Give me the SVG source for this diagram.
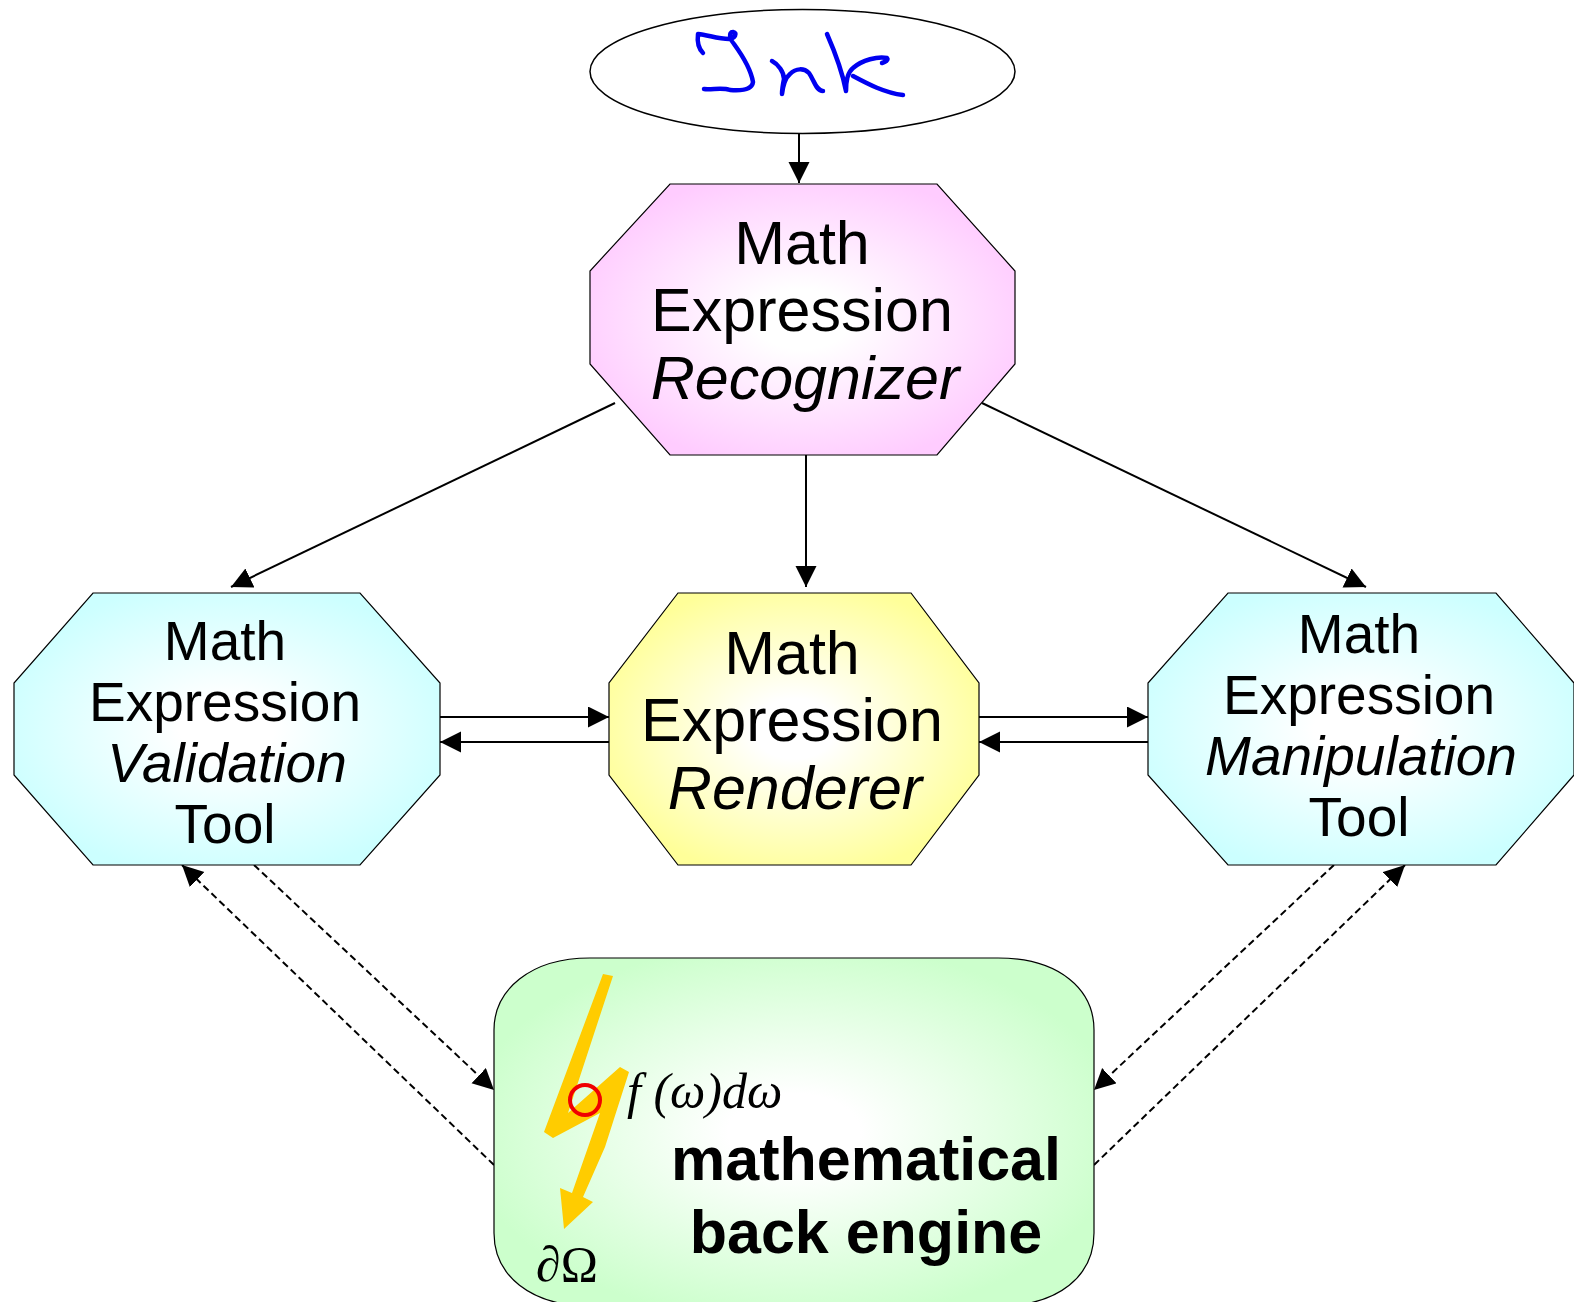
<svg xmlns="http://www.w3.org/2000/svg" width="1574" height="1302" viewBox="0 0 1574 1302">
<style>
.n{stroke:#000;stroke-width:1.2}
.t{font-family:"Liberation Sans",Arial,sans-serif;text-anchor:middle;fill:#000}
.l{font-size:61px}.m{font-size:55px}.i{font-style:italic}
.b{font-family:"Liberation Sans",Arial,sans-serif;text-anchor:middle;font-size:61px;font-weight:bold}
.c{fill:none;stroke:#000;stroke-width:2}
.d{stroke-dasharray:7 4}
.ink{fill:none;stroke:#0000f0;stroke-width:4.5;stroke-linecap:round;stroke-linejoin:round}
.s{font-family:"Liberation Serif","Times New Roman",serif;fill:#000}
</style>
<defs>
<radialGradient id="gp" cx="0.5" cy="0.5" r="0.55"><stop offset="0.2" stop-color="#fff"/><stop offset="1" stop-color="#fcf"/></radialGradient>
<radialGradient id="gc" cx="0.5" cy="0.5" r="0.55"><stop offset="0.2" stop-color="#fff"/><stop offset="1" stop-color="#cff"/></radialGradient>
<radialGradient id="gy" cx="0.5" cy="0.5" r="0.55"><stop offset="0.2" stop-color="#fff"/><stop offset="1" stop-color="#ff9"/></radialGradient>
<radialGradient id="gg" cx="0.5" cy="0.5" r="0.55"><stop offset="0.2" stop-color="#fff"/><stop offset="1" stop-color="#cfc"/></radialGradient>
<marker id="a" markerUnits="userSpaceOnUse" markerWidth="22" markerHeight="22" refX="21" refY="10.5" orient="auto"><path d="M0 0L21 10.500L0 21Z"/></marker>
</defs>
<g id="connectors">
<path class="c" marker-end="url(#a)" d="M799 134V183"/>
<path class="c" marker-end="url(#a)" d="M615 403L231 587"/>
<path class="c" marker-end="url(#a)" d="M806 448V587"/>
<path class="c" marker-end="url(#a)" d="M982 403L1366 587"/>
<path class="c" marker-end="url(#a)" d="M440 717H609"/>
<path class="c" marker-end="url(#a)" d="M609 742H440"/>
<path class="c" marker-end="url(#a)" d="M979 717H1148"/>
<path class="c" marker-end="url(#a)" d="M1148 742H979"/>
<path class="c d" marker-end="url(#a)" d="M254 865L494 1090"/>
<path class="c d" marker-end="url(#a)" d="M494 1165L182 865"/>
<path class="c d" marker-end="url(#a)" d="M1334 865L1094 1090"/>
<path class="c d" marker-end="url(#a)" d="M1094 1165L1405 865"/>
</g>
<g id="ink">
<ellipse class="n" cx="802.500" cy="71.500" rx="212.500" ry="62" fill="#fff" style="stroke-width:1.500"/>
<path class="ink" d="M703 53C698 48 697 42 698 34C708 35 718 39 729 39C735 38 738 33 733 32C728 32 730 40 734 44C742 55 751 70 753 82C752 90 742 91 730 90C722 87 712 90 704 89"/>
<path class="ink" d="M772 61C778 64 784 72 784 79C783 84 782 90 782 94C783 86 785 78 790 74C796 68 804 68 809 73C814 80 816 91 823 91"/>
<path class="ink" d="M827 34C834 50 842 70 846 91C846 80 848 72 853 68C862 60 878 56 887 58C889 60 885 62 882 63"/>
<path class="ink" d="M853 76C868 84 885 93 903 95"/>
</g>
<g id="recognizer">
<polygon class="n" fill="url(#gp)" points="670,184 937,184 1015,271 1015,364 937,455 670,455 590,364 590,271"/>
<text class="t l" x="802" y="264">Math</text>
<text class="t l" x="802" y="331">Expression</text>
<text class="t l i" x="805" y="399">Recognizer</text>
</g>
<g id="validation">
<polygon class="n" fill="url(#gc)" points="93,593 360,593 440,683 440,775 360,865 93,865 14,775 14,683"/>
<text class="t m" x="225" y="660">Math</text>
<text class="t m" x="225" y="721">Expression</text>
<text class="t m i" x="227" y="782">Validation</text>
<text class="t m" x="225" y="843">Tool</text>
</g>
<g id="renderer">
<polygon class="n" fill="url(#gy)" points="678,593 911,593 979,683 979,775 911,865 678,865 609,775 609,683"/>
<text class="t l" x="792" y="674">Math</text>
<text class="t l" x="792" y="741">Expression</text>
<text class="t l i" x="795" y="809">Renderer</text>
</g>
<g id="manipulation">
<polygon class="n" fill="url(#gc)" points="1228,593 1496,593 1574,683 1574,775 1496,865 1228,865 1148,775 1148,683"/>
<text class="t m" x="1359" y="653">Math</text>
<text class="t m" x="1359" y="714">Expression</text>
<text class="t m i" x="1361" y="775">Manipulation</text>
<text class="t m" x="1359" y="836">Tool</text>
</g>
<g id="engine">
<path class="n" fill="url(#gg)" d="M590 958H998C1060 958 1094 990 1094 1030V1233C1094 1275 1060 1306 998 1306H590C530 1306 494 1275 494 1233V1030C494 990 530 958 590 958Z"/>
<polygon fill="#fc0" points="603,974 613,976 568,1113 620,1067 629,1072 605,1147 583,1197 593,1202 564,1229 560,1188 572,1193 600,1113 553,1138 544,1132"/>
<circle cx="585" cy="1100" r="15" fill="none" stroke="#f00000" stroke-width="4"/>
<text class="s i" x="627" y="1108" font-size="50">f (ω)dω</text>
<text class="s" x="536" y="1281" font-size="50">∂Ω</text>
<text class="b" x="866" y="1180">mathematical</text>
<text class="b" x="866" y="1253">back engine</text>
</g>
</svg>
